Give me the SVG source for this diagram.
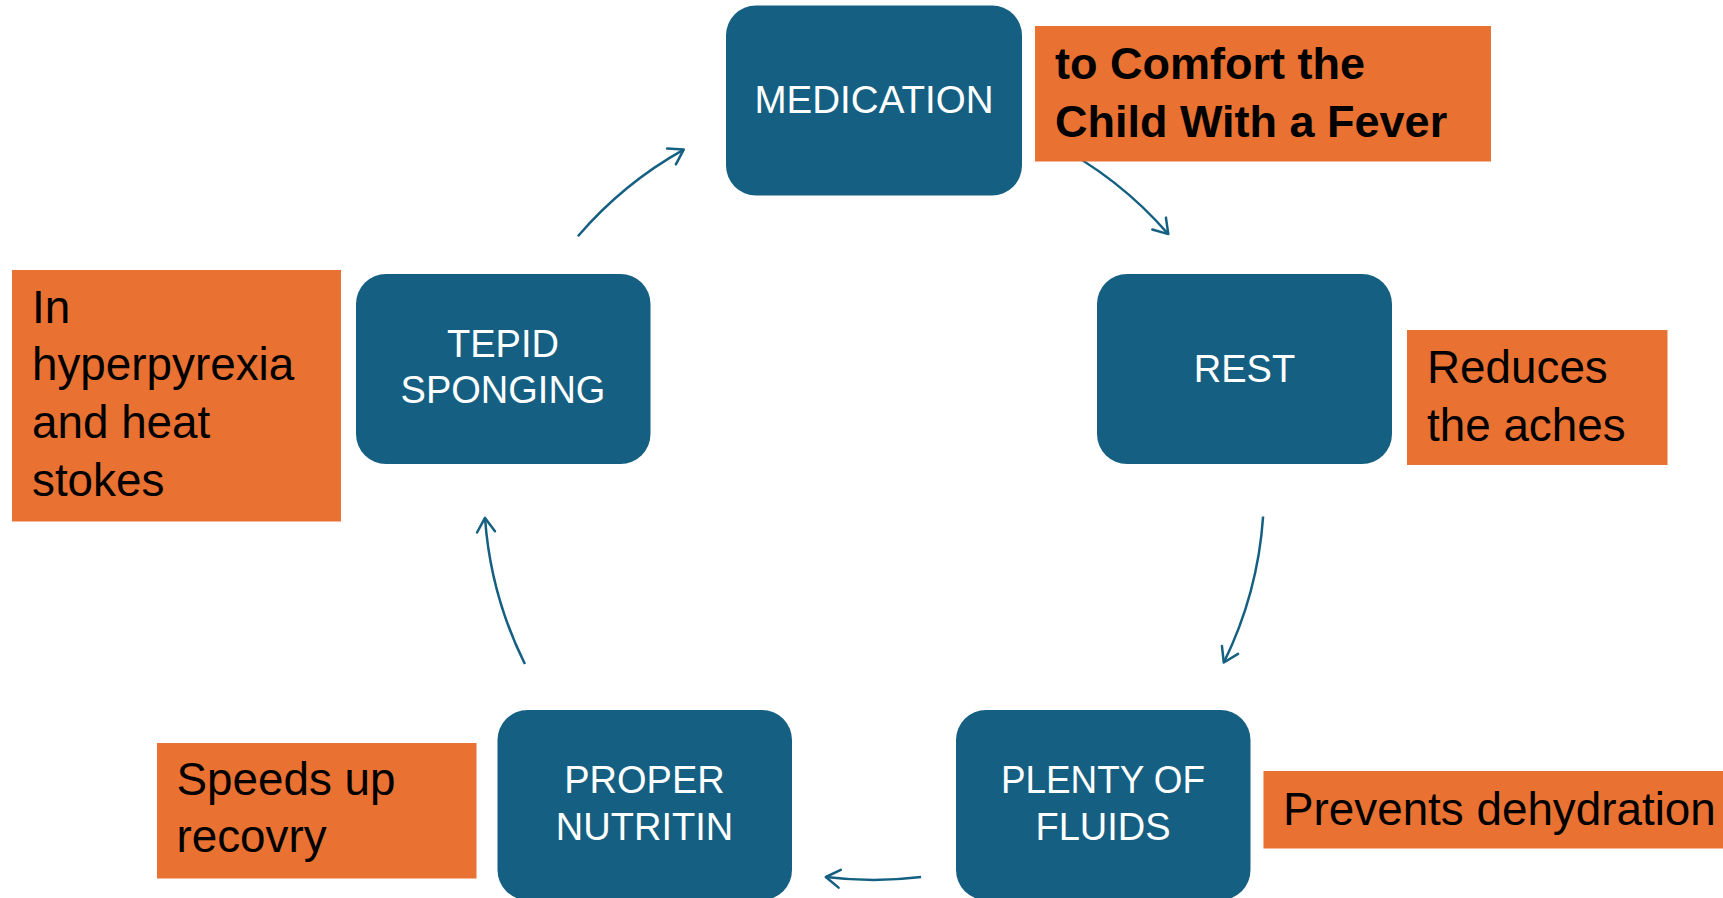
<svg xmlns="http://www.w3.org/2000/svg" width="1723" height="898" viewBox="0 0 1723 898">
<style>
.box{fill:#156082}
.note{fill:#e97132}
.bt{font-family:"Liberation Sans",Arial,sans-serif;font-size:38px;fill:#ffffff;text-anchor:middle}
.nt{font-family:"Liberation Sans",Arial,sans-serif;font-size:45.8px;fill:#000000}
.ntb{font-weight:bold;font-size:45px}
.conn{fill:none;stroke:#156082;stroke-width:2.5;marker-end:url(#ah)}
</style>
<defs>
<marker id="ah" viewBox="-18 -12 22 24" refX="0" refY="0" markerWidth="22" markerHeight="24" markerUnits="userSpaceOnUse" orient="auto">
<path d="M-14,-9 L0,0 L-14,9" fill="none" stroke="#156082" stroke-width="2.5" stroke-linecap="round" stroke-linejoin="round"/>
</marker>
</defs>
<rect width="1723" height="898" fill="#ffffff"/>
<g id="connectors">
<path class="conn" d="M1051.1,142.5 A390,390 0 0 1 1168.3,234.1"/>
<path class="conn" d="M1263.1,516.5 A390,390 0 0 1 1223.8,662.5"/>
<path class="conn" d="M921.1,877.1 A390,390 0 0 1 825.8,877.0"/>
<path class="conn" d="M524.9,664.0 A390,390 0 0 1 485.0,517.9"/>
<path class="conn" d="M577.9,236.2 A390,390 0 0 1 683.7,149.6"/>
</g>
<g id="medication">
<rect class="box" x="726" y="5.5" width="296" height="190" rx="30"/>
<text class="bt" x="874" y="113" textLength="239" lengthAdjust="spacingAndGlyphs">MEDICATION</text>
</g>
<g id="rest">
<rect class="box" x="1097" y="274" width="295" height="190" rx="30"/>
<text class="bt" x="1244.5" y="382">REST</text>
</g>
<g id="plenty-of-fluids">
<rect class="box" x="956" y="710" width="294.5" height="190" rx="30"/>
<text class="bt" x="1103" y="793" textLength="204" lengthAdjust="spacingAndGlyphs">PLENTY OF</text>
<text class="bt" x="1103" y="840">FLUIDS</text>
</g>
<g id="proper-nutritin">
<rect class="box" x="497.5" y="710" width="294.5" height="190" rx="30"/>
<text class="bt" x="644.5" y="793">PROPER</text>
<text class="bt" x="644.5" y="840">NUTRITIN</text>
</g>
<g id="tepid-sponging">
<rect class="box" x="356" y="274" width="294.5" height="190" rx="30"/>
<text class="bt" x="503" y="357">TEPID</text>
<text class="bt" x="503" y="403">SPONGING</text>
</g>
<g id="note-title">
<rect class="note" x="1035" y="26" width="456" height="135.5"/>
<text class="nt ntb" x="1055" y="79">to Comfort the</text>
<text class="nt ntb" x="1055" y="137">Child With a Fever</text>
</g>
<g id="note-rest">
<rect class="note" x="1407" y="330" width="260.5" height="135"/>
<text class="nt" x="1427" y="383">Reduces</text>
<text class="nt" x="1427" y="441">the aches</text>
</g>
<g id="note-fluids">
<rect class="note" x="1263.5" y="771" width="460" height="77.5"/>
<text class="nt" x="1283" y="825">Prevents dehydration</text>
</g>
<g id="note-nutrition">
<rect class="note" x="157" y="743" width="319.5" height="135.5"/>
<text class="nt" x="176.5" y="795">Speeds up</text>
<text class="nt" x="176.5" y="852">recovry</text>
</g>
<g id="note-sponging">
<rect class="note" x="12" y="270" width="329" height="251.5"/>
<text class="nt" x="32" y="323">In</text>
<text class="nt" x="32" y="380">hyperpyrexia</text>
<text class="nt" x="32" y="438">and heat</text>
<text class="nt" x="32" y="496">stokes</text>
</g>
</svg>
